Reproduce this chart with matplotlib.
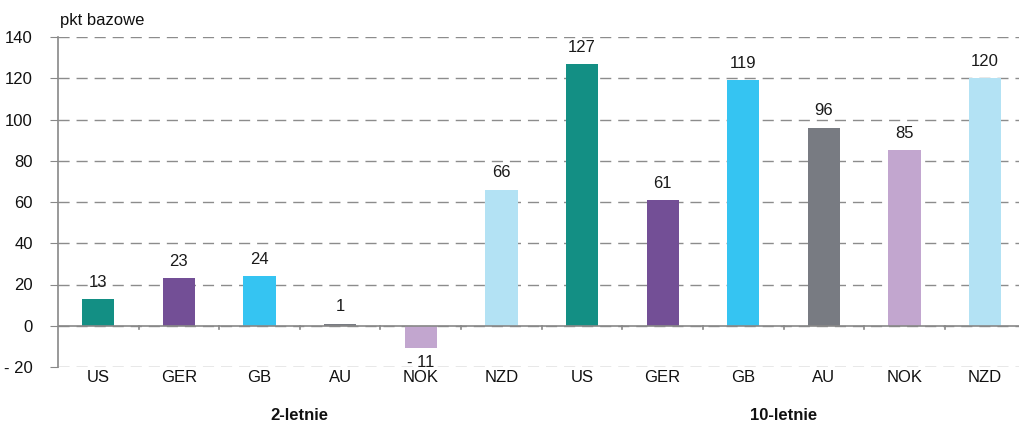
import matplotlib.pyplot as plt
import numpy as np

plt.rcParams['font.family'] = ['Liberation Sans', 'DejaVu Sans']

# dane
kraje = ['US', 'GER', 'GB', 'AU', 'NOK', 'NZD', 'US', 'GER', 'GB', 'AU', 'NOK', 'NZD']
wartosci = [13, 23, 24, 1, -11, 66, 127, 61, 119, 96, 85, 120]
grupy = ['2-letnie', '10-letnie']
kolory = ['#138f84', '#734f96', '#35c4f2', '#787b82', '#c2a6cf', '#b3e2f4'] * 2

fig = plt.figure(figsize=(10.19, 4.29), dpi=100)
ax = fig.add_axes([58/1019, 62/429, 1 - 58/1019, 330/429])

x = np.arange(len(kraje))
ax.bar(x, wartosci, width=0.4, color=kolory, zorder=3)

for xi, v in zip(x, wartosci):
    if v >= 0:
        ax.text(xi, v + 4.5, str(v), ha='center', va='bottom', fontsize=12, color='#1a1a1a', zorder=5)
    else:
        ax.text(xi, v - 3, '- %d' % abs(v), ha='center', va='top', fontsize=12, color='#1a1a1a', zorder=5)

ax.set_ylim(-20, 140)
ax.set_xlim(-0.5, 11.42)
ax.set_yticks(range(-20, 141, 20))
ax.set_yticklabels([('- %d' % abs(t)) if t < 0 else str(t) for t in range(-20, 141, 20)], fontsize=12)
ax.yaxis.grid(True, linestyle=(0, (8, 5)), color='#8c8c8c', linewidth=1, zorder=0)
ax.tick_params(axis='y', length=6, color='#888888', pad=12, labelcolor='#111111')
ax.set_xticks([])

for s in ['top', 'right', 'bottom']:
    ax.spines[s].set_visible(False)
ax.spines['left'].set_color('#888888')
ax.spines['left'].set_linewidth(1.2)

# linia zera i znaczniki
ax.axhline(0, color='#888888', linewidth=1.2, zorder=4)
for b in np.arange(0.5, 11, 1):
    ax.plot([b, b], [0, -1.7], color='#888888', linewidth=1.2, zorder=4, clip_on=False)

for xi, k in zip(x, kraje):
    ax.text(xi, -25, k, ha='center', va='center', fontsize=12, color='#111111', clip_on=False)

for i, g in enumerate(grupy):
    ax.text(2.5 + 6 * i, -43.5, g, ha='center', va='center', fontsize=12,
            fontweight='bold', color='#111111', clip_on=False)

fig.text(60/1019, 1 - 21/429, 'pkt bazowe', ha='left', va='center', fontsize=12, color='#111111')

fig.savefig('out.png', dpi=100)
